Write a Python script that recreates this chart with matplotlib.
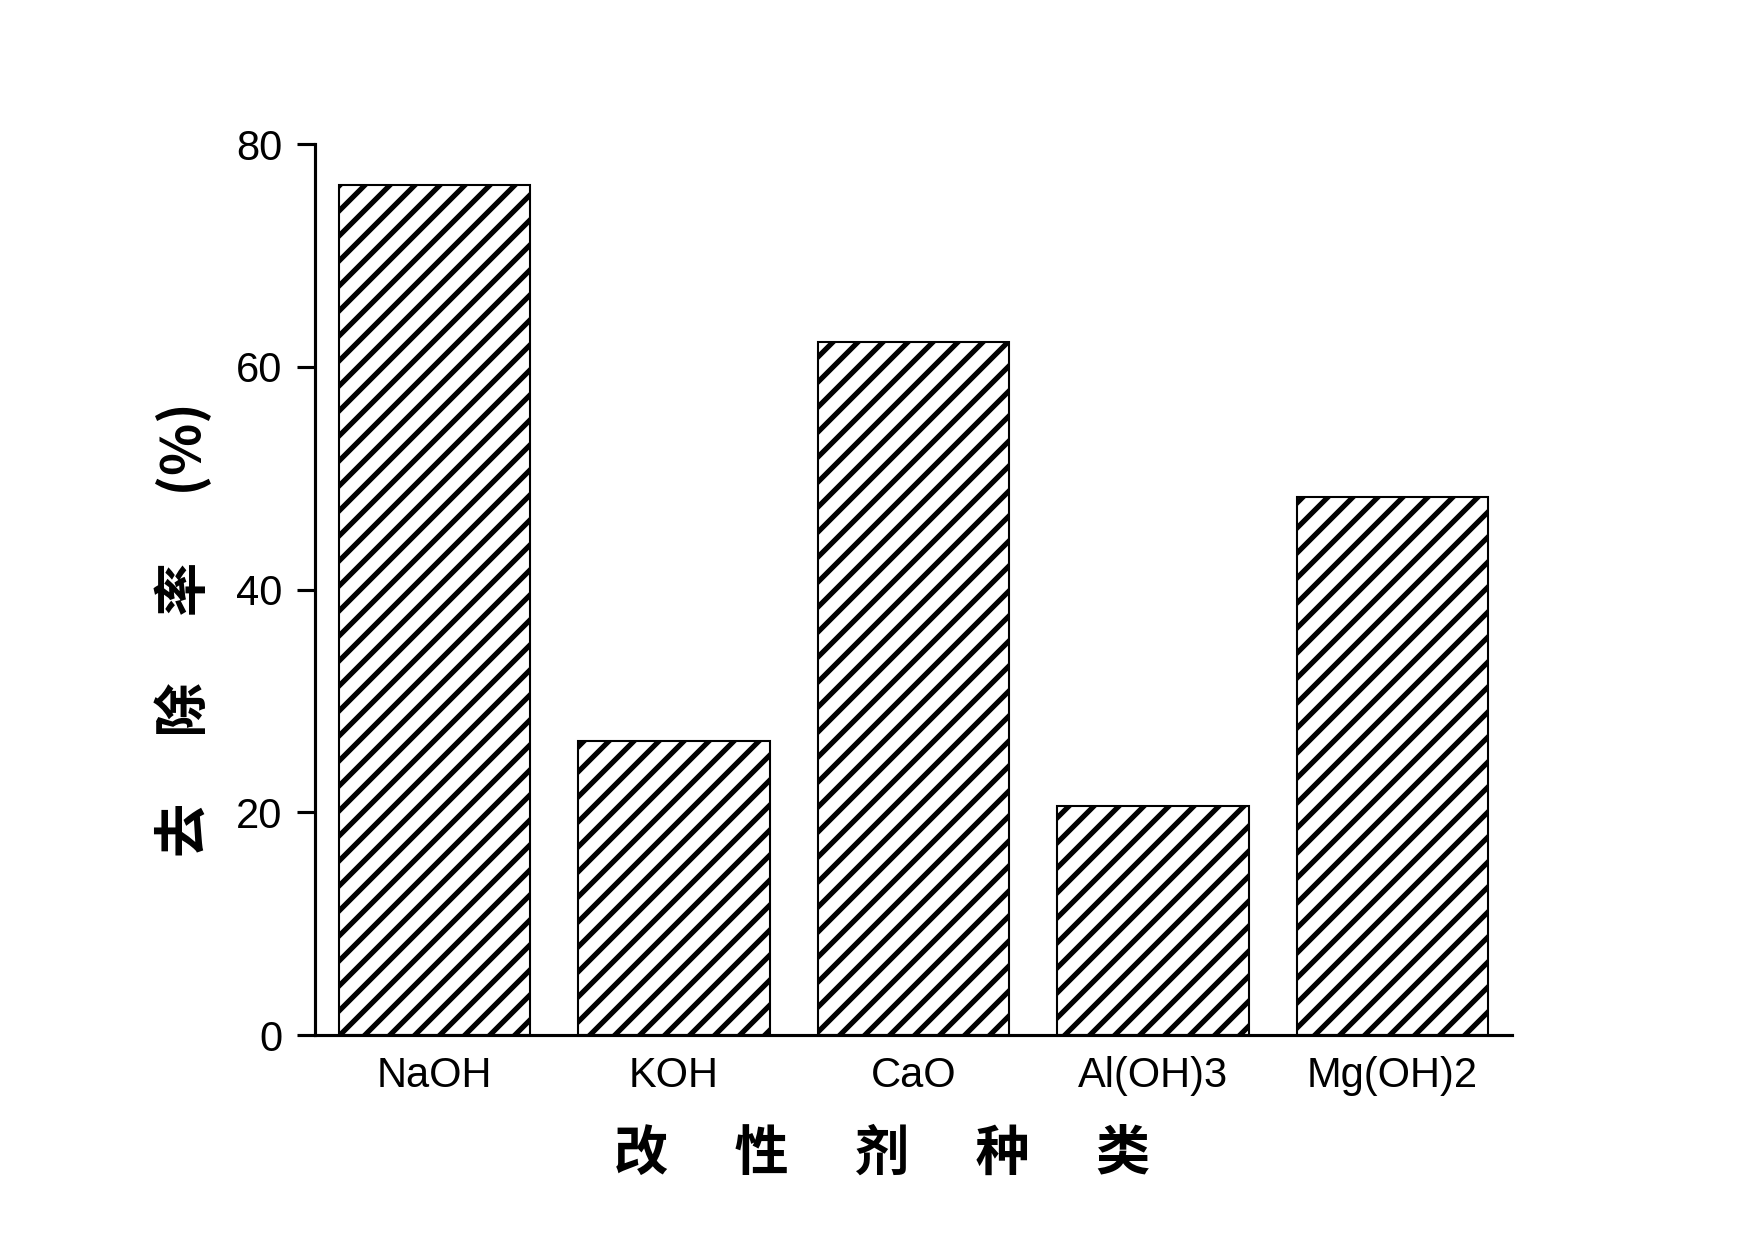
import matplotlib
matplotlib.use("Agg")
import matplotlib.pyplot as plt

categories = ["NaOH", "KOH", "CaO", "Al(OH)3", "Mg(OH)2"]
removal = [76.3, 26.4, 62.2, 20.6, 48.3]
yticks = [0, 20, 40, 60, 80]

plt.rcParams['font.family'] = ['Liberation Sans', 'DejaVu Sans']
plt.rcParams['hatch.linewidth'] = 2.5

fig = plt.figure(figsize=(11.7, 1240 / 150), dpi=150)
ax = fig.add_axes([315 / 1755, 1 - 1035 / 1240, 1197 / 1755, 891 / 1240])

x = list(range(len(categories)))
ax.bar(x, removal, width=0.8, facecolor='white', edgecolor='black',
       linewidth=1.0, hatch='//')

ax.set_xlim(-0.5, 4.5)
ax.set_ylim(0, 80)
ax.set_yticks(yticks)
ax.set_yticklabels([str(v) for v in yticks])
ax.set_xticks(x)
ax.set_xticklabels(categories)

for s in ['top', 'right']:
    ax.spines[s].set_visible(False)
for s in ['left', 'bottom']:
    ax.spines[s].set_linewidth(1.5)

ax.tick_params(axis='y', direction='out', length=8.6, width=1.5, pad=7, labelsize=20)
ax.tick_params(axis='x', length=0, pad=10, labelsize=20)

cjk = ['Noto Sans CJK SC', 'DejaVu Sans']
ax.set_xlabel("改\u3000 性\u3000 剂\u3000 种\u3000 类", family=cjk, fontsize=26,
              fontweight='bold', va='center', ha='center')
ax.xaxis.set_label_coords(0.4737, -0.134)
ax.set_ylabel("去\u3000 除\u3000 率\u3000 (%)", family=cjk, fontsize=26,
              fontweight='bold', va='center', ha='center')
ax.yaxis.set_label_coords(-0.1094, 0.4545)

fig.savefig("out.png", dpi=150)
